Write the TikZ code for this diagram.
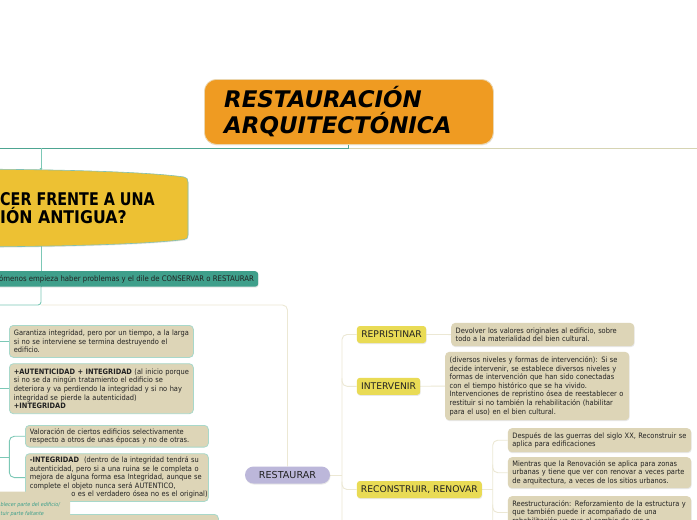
\documentclass[tikz,border=0pt]{standalone}
\usepackage{fontspec}
\setmainfont{DejaVu Sans}
\newfontfamily\condf{DejaVu Sans Condensed}
\newfontfamily\qfont{DejaVu Sans Bold}[FakeStretch=0.82]
\newfontfamily\qfontb{DejaVu Sans Bold}[FakeStretch=0.9]
\newfontfamily\titlef{DejaVu Sans}
\usetikzlibrary{arrows.meta,shadows,calc}
\definecolor{orangec}{HTML}{EF9B22}
\definecolor{orangeb}{HTML}{EBD7B0}
\definecolor{yelq}{HTML}{EDC133}
\definecolor{tealbar}{HTML}{3F9F8B}
\definecolor{tealline}{HTML}{4DA591}
\definecolor{lline}{HTML}{7CC8B6}
\definecolor{tealbord}{HTML}{A8D8CA}
\definecolor{beigeline}{HTML}{D6D4B3}
\definecolor{rlinec}{HTML}{ECE8D4}
\definecolor{boxc}{HTML}{DDD5B7}
\definecolor{labc}{HTML}{E9DB55}
\definecolor{lavc}{HTML}{BCB7DA}
\definecolor{txtc}{HTML}{222222}
\definecolor{noteteal}{HTML}{3FA08C}
\pgfdeclarelayer{bg}
\pgfdeclarelayer{paper}
\pgfsetlayers{paper,bg,main}
\newcommand\bodyf{\condf\fontsize{7.4}{8.6}\selectfont}
\newcommand\labf{\fontsize{9.2}{11}\selectfont}
\begin{document}
\begin{tikzpicture}[x=1pt,y=-1pt,
  shad/.style={drop shadow={opacity=0.18,shadow xshift=0.5pt,shadow yshift=-1pt}},
  txtbox/.style={fill=boxc, rounded corners=4pt, inner xsep=4.5pt, inner ysep=2pt,
     align=left, anchor=north west, font=\bodyf, text=txtc},
  lbox/.style={txtbox, draw=tealbord, line width=0.8pt},
  rbox/.style={txtbox, shad},
  labelbox/.style={fill=labc, rounded corners=3pt, minimum height=17pt, inner xsep=4pt,
     inner ysep=0pt, font=\labf, text=txtc, anchor=west, shad},
  rline/.style={rlinec, line width=0.9pt},
  lconn/.style={lline, line width=0.9pt},
]
\useasboundingbox (0,0) rectangle (697,520);
\begin{pgfonlayer}{paper}
\fill[white] (0,0) rectangle (697,520);
\end{pgfonlayer}

% title
\node[fill=orangec, draw=orangeb, line width=0.8pt, rounded corners=12pt,
  minimum width=289pt, minimum height=65pt, anchor=north west, inner sep=0pt, shad] (title) at (204,79) {};
\node[font=\titlef\bfseries\itshape\fontsize{22.9}{26}\selectfont, anchor=base west, inner sep=0pt] (t1) at (224,107) {RESTAURACIÓN};
\node[font=\titlef\bfseries\itshape\fontsize{22.9}{26}\selectfont, anchor=base west, inner sep=0pt] (t2) at (224,133.5) {ARQUITECTÓNICA};

\coordinate (split) at (title.south |- 0,148);
\coordinate (leftend) at (0,148);
\coordinate (rightend) at (697,148);
\coordinate (qsrc) at (41,148);
\coordinate (qtop) at (41,171);
\coordinate (qbot) at (41,245);

% question shape
\path[fill=yelq, draw=tealline!70, line width=0.6pt, shad]
  (-60,169) .. controls (60,169) and (150,172) .. (184,177)
  .. controls (187,177.5) and (188,179) .. (188,182) -- (188,235)
  .. controls (188,238) and (187,239) .. (184,239.5)
  .. controls (150,244) and (60,247) .. (-60,247) -- cycle;
\node[font=\qfont\fontsize{17.5}{18}\selectfont, anchor=base west, inner sep=0pt, text=black] (q1) at (0,205) {CER FRENTE A UNA};
\node[font=\qfontb\fontsize{17.5}{18}\selectfont, anchor=base west, inner sep=0pt, text=black] (q2) at (0,223) {IÓN ANTIGUA?};

% teal bar
\node[fill=tealbar, rounded corners=3pt, minimum width=268pt, minimum height=15.5pt, anchor=north west, inner sep=0pt, shad] (bar) at (-10,271) {};
\node[font=\condf\fontsize{7.7}{9}\selectfont, text=txtc, anchor=base west, inner sep=0pt] (bt) at (-1,281.3) {ómenos empieza haber problemas y el dile de CONSERVAR o RESTAURAR};
\coordinate (j1) at (41,305);
\coordinate (lj1) at (0,305);

% RESTAURAR
\node[fill=lavc, rounded corners=8.5pt, minimum width=85pt, minimum height=17pt, inner sep=0pt,
  font=\fontsize{9.6}{11}\selectfont, text=txtc, shad] (rest) at (287.5,475) {RESTAURAR};
\coordinate (spx) at (342,0);
\coordinate (spbot) at (342,530);

% right labels
\node[labelbox, minimum width=69.3pt] (rep) at (356.7,334.5) {REPRISTINAR};
\node[labelbox, minimum width=63.3pt] (int) at (356.7,386.3) {INTERVENIR};
\node[labelbox, minimum width=123pt] (rec) at (356.7,489.5) {RECONSTRUIR, RENOVAR};

% right detail boxes
\node[rbox, text width=174pt, minimum height=23.3pt] (repD) at (451,322.7)
 {\mbox{Devolver los valores originales al edificio, sobre}\\\mbox{todo a la materialidad del bien cultural.}};
\node[rbox, text width=175pt, minimum height=68.3pt] (intD) at (445,351.7)
 {\mbox{(diversos niveles y formas de intervención): Si se}\\
  \mbox{decide intervenir, se establece diversos niveles y}\\
  \mbox{formas de intervención que han sido conectadas}\\
  \mbox{con el tiempo histórico que se ha vivido.}\\
  \mbox{Intervenciones de repristino ósea de reestablecer o}\\
  \mbox{restituir si no también la rehabilitación (habilitar}\\
  \mbox{para el uso) en el bien cultural.}};
\node[rbox, text width=174.3pt, minimum height=24pt] (recD1) at (507.7,428)
 {\mbox{Después de las guerras del siglo XX, Reconstruir se}\\\mbox{aplica para edificaciones}};
\node[rbox, text width=174.3pt, minimum height=31pt] (recD2) at (507.7,457)
 {\mbox{Mientras que la Renovación se aplica para zonas}\\
  \mbox{urbanas y tiene que ver con renovar a veces parte}\\
  \mbox{de arquitectura, a veces de los sitios urbanos.}};
\node[rbox, text width=174.3pt, inner ysep=4pt] (recD3) at (507.7,496)
 {\mbox{Reestructuración: Reforzamiento de la estructura y}\\
  \mbox{que también puede ir acompañado de una}\\
  \mbox{rehabilitación ya que el cambio de uso o}};
\coordinate (spx2) at (492.7,0);
\coordinate (spbot2) at (492.7,530);

% left boxes
\coordinate (origin) at (0,0);
\coordinate (bx) at (9.3,0);
\coordinate (lCD) at (0,457);
\node[lbox, text width=175pt, minimum height=32pt] (gA) at (9,325)
 {\mbox{Garantiza integridad, pero por un tiempo, a la larga}\\
  \mbox{si no se interviene se termina destruyendo el}\\
  \mbox{edificio.}};
\node[lbox, text width=175pt, minimum height=50pt] (gB) at (9,363.3)
 {\mbox{\textbf{+AUTENTICIDAD + INTEGRIDAD} (al inicio porque}\\
  \mbox{si no se da ningún tratamiento el edificio se}\\
  \mbox{deteriora y va perdiendo la integridad y si no hay}\\
  \mbox{integridad se pierde la autenticidad)}\\
  \mbox{\textbf{+INTEGRIDAD}}};
\node[lbox, text width=174pt, minimum height=21.7pt] (gC) at (25,425)
 {\mbox{Valoración de ciertos edificios selectivamente}\\
  \mbox{respecto a otros de unas épocas y no de otras.}};
\node[lbox, text width=174pt, minimum height=47.7pt] (gD) at (25,453.3)
 {\mbox{\textbf{-INTEGRIDAD}\ \ (dentro de la integridad tendrá su}\\
  \mbox{autenticidad, pero si a una ruina se le completa o}\\
  \mbox{mejora de alguna forma esa Integridad, aunque se}\\
  \mbox{complete el objeto nunca será AUTENTICO,}\\
  \mbox{\hspace*{41.5pt}o es el verdadero ósea no es el original)}};
\node[lbox, text width=184pt, minimum height=30pt] (gE) at (25,514) {};
\node[fill=boxc, rounded corners=4pt, minimum width=90pt, minimum height=54pt, anchor=north west, inner sep=0pt] (gF) at (-20,491.5) {};
\node[font=\condf\itshape\fontsize{5.4}{7}\selectfont, text=noteteal, anchor=base west, inner sep=0pt] (n1) at (0.5,506) {blecer parte del edificio/};
\node[font=\condf\itshape\fontsize{5.4}{7}\selectfont, text=noteteal, anchor=base west, inner sep=0pt] (n2) at (0.5,515.5) {tuir parte faltante};

\begin{pgfonlayer}{bg}
  \draw[tealline, line width=0.9pt] (title.south) -- (split);
  \draw[tealline, line width=0.9pt] (split) -- (leftend);
  \draw[beigeline, line width=0.9pt] (split) -- (rightend);
  \draw[lconn, -{Latex[length=3pt,width=3pt]}] (qsrc) -- (qtop);
  \draw[lconn] (qbot) -- (bar.south -| qbot);
  \draw[lconn, rounded corners=3pt] (bar.south -| qbot) -- (j1) -- (lj1);
  \draw[rline, rounded corners=5pt] (j1) -- (j1 -| rest) -- (rest.north);
  % right spine
  \draw[rline] (rest.east) -- (rest.east -| spx);
  \draw[rline, rounded corners=5pt] (rep.west) -- (rep.west -| spx) -- (spbot);
  \draw[rline, rounded corners=5pt] ($(int.west -| spx)+(0,-8)$) -- (int.west -| spx) -- (int.west);
  \draw[rline, rounded corners=5pt] ($(rec.west -| spx)+(0,-8)$) -- (rec.west -| spx) -- (rec.west);
  \draw[rline] (rep.east) -- (repD.west);
  \draw[rline] (int.east) -- (intD.west);
  \draw[rline] (rec.east) -- (rec.east -| spx2);
  \draw[rline, rounded corners=5pt] (recD1.west) -- (recD1.west -| spx2) -- (spbot2);
  \draw[rline, rounded corners=5pt] ($(recD2.west -| spx2)+(0,-8)$) -- (recD2.west -| spx2) -- (recD2.west);
  \draw[rline, rounded corners=5pt] ($(recD3.west -| spx2)+(0,-8)$) -- (recD3.west -| spx2) -- (recD3.west);
  % left
  \draw[lconn] (gA.west -| origin) -- (gA.west);
  \draw[lconn] (gB.west -| origin) -- (gB.west);
  \draw[lconn, rounded corners=5pt] (gC.west) -- (gC.west -| bx) -- (gD.west -| bx) -- (gD.west);
  \draw[lconn] (lCD) -- (lCD -| bx);
\end{pgfonlayer}
\end{tikzpicture}
\end{document}
